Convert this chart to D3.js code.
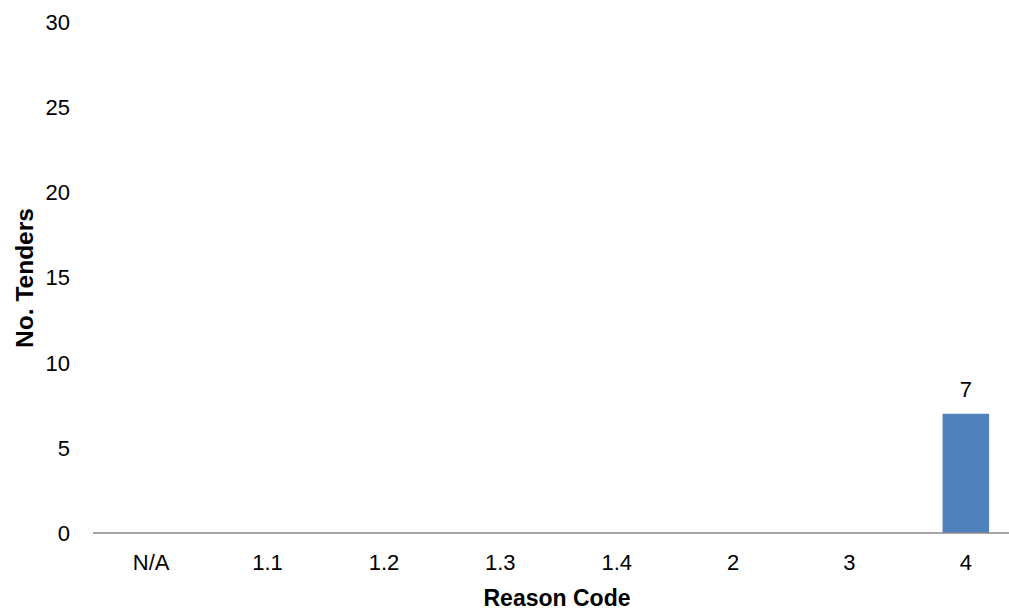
<!DOCTYPE html>
<html><head><meta charset="utf-8">
<script src="https://cdn.jsdelivr.net/npm/d3@7"></script>
<style>body{margin:0;background:#fff;} text{font-family:"Liberation Sans",Arial,sans-serif;}</style>
</head><body>
<svg id="c" width="1009" height="610"></svg>
<script>
const categories = ["N/A","1.1","1.2","1.3","1.4","2","3","4"];
const values = [0,0,0,0,0,0,0,7];
const yTicks = [0,5,10,15,20,25,30];

const svg = d3.select("#c");
const x = d3.scaleBand().domain(categories).range([93,1024]).paddingInner(0.6).paddingOuter(0.3);
const y = d3.scaleLinear().domain([0,30]).range([533,22]);

// y tick labels
svg.append("g").selectAll("text").data(yTicks).join("text")
  .attr("x",70).attr("y",d=>y(d)).attr("dy","0.36em").attr("text-anchor","end")
  .attr("font-size",22).attr("fill","#000").text(d=>d);

// bars
svg.append("g").selectAll("rect").data(values.map((v,i)=>({c:categories[i],v}))).join("rect")
  .attr("x",d=>x(d.c)).attr("width",x.bandwidth())
  .attr("y",d=>y(d.v)).attr("height",d=>y(0)-y(d.v)).attr("fill","#4f81bd");

// data labels for nonzero
svg.append("g").selectAll("text").data(values.map((v,i)=>({c:categories[i],v})).filter(d=>d.v>0)).join("text")
  .attr("x",d=>x(d.c)+x.bandwidth()/2).attr("y",d=>y(d.v)-17)
  .attr("text-anchor","middle").attr("font-size",22).attr("fill","#000").text(d=>d.v);

// x axis line
svg.append("line").attr("x1",93).attr("x2",1009).attr("y1",y(0)).attr("y2",y(0))
  .attr("stroke","#898989").attr("stroke-width",1.5);

// x tick labels
svg.append("g").selectAll("text").data(categories).join("text")
  .attr("x",d=>x(d)+x.bandwidth()/2).attr("y",570).attr("text-anchor","middle")
  .attr("font-size",22).attr("fill","#000").text(d=>d);

// axis titles
svg.append("text").attr("x",557).attr("y",606).attr("text-anchor","middle")
  .attr("font-size",23).attr("font-weight","bold").text("Reason Code");
svg.append("text").attr("transform","translate(33,278) rotate(-90)").attr("text-anchor","middle")
  .attr("font-size",24.5).attr("font-weight","bold").text("No. Tenders");
</script>
</body></html>
